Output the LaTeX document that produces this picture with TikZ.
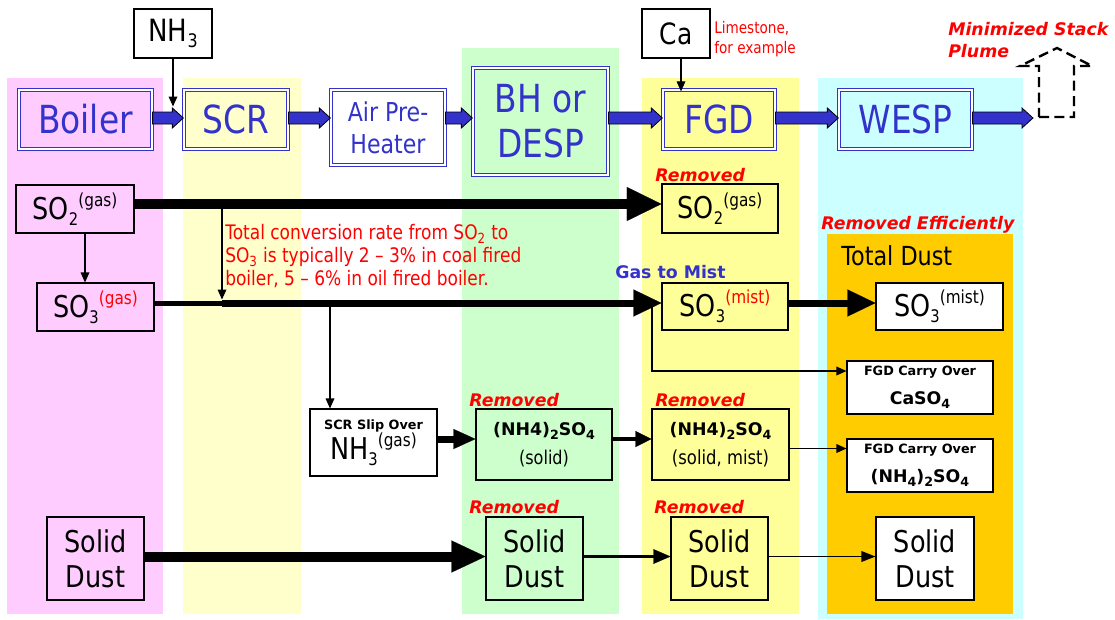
\documentclass[tikz,border=0pt]{standalone}
\usepackage{fontspec}
\setmainfont{DejaVu Sans}[FakeStretch=0.85]
\newfontfamily\boldface{DejaVu Sans}
\usetikzlibrary{arrows.meta,calc}

\definecolor{pinkbg}{HTML}{FFCCFF}
\definecolor{scrbg}{HTML}{FFFFCC}
\definecolor{greenbg}{HTML}{CCFFCC}
\definecolor{yellowbg}{HTML}{FFFF99}
\definecolor{cyanbg}{HTML}{CCFFFF}
\definecolor{orangebg}{HTML}{FFCC00}
\definecolor{procblue}{HTML}{3333CC}
\definecolor{alertred}{HTML}{FF0000}

\newcommand\fs[2]{\fontsize{#1}{#2}\selectfont}
% chemical sub- and superscripts
\newcommand\lo[2][13]{\raisebox{-4.5pt}{\fs{#1}{#1}#2}}
\newcommand\hi[2][13.5]{\raisebox{9.5pt}{\fs{#1}{#1}#2}}
\newcommand\blo[1]{\raisebox{-3pt}{\fs{9.5}{9.5}#1}}

% blue block arrow between two process units, on the flow axis
\newcommand\flowarrow[2]{%
  \path[fill=procblue, draw=black, line width=0.6pt]
    let \p1=(#1.east), \p2=(#2), \p3=(flowaxis) in
    (\x1,\y3+4.5pt) -- (\x2-8.25pt,\y3+4.5pt) -- (\x2-8.25pt,\y3+7.5pt) -- (\x2,\y3)
    -- (\x2-8.25pt,\y3-7.5pt) -- (\x2-8.25pt,\y3-4.5pt) -- (\x1,\y3-4.5pt) -- cycle;}

\begin{document}
\begin{tikzpicture}[x=0.75pt,y=-0.75pt,
  span/.style n args={4}{at={(#1/2+#3/2,#2/2+#4/2)},
    minimum width={(#3-#1)*0.75pt}, minimum height={(#4-#2)*0.75pt}},
  proc/.style={draw=procblue, line width=0.95pt, double=white, double distance=1.1pt,
    inner sep=0pt, text=procblue, align=center, font=\fs{29}{34}},
  chem/.style={draw=black, line width=0.8pt, inner sep=0pt, align=center, font=\fs{22.5}{26}},
  feed/.style={draw=black, line width=0.8pt, fill=white, inner sep=0pt},
  tag/.style={font=\boldface\bfseries\itshape\fs{13}{16.5}, text=alertred, inner sep=0pt, anchor=base west},
  note/.style={text=alertred, inner sep=0pt, anchor=north west, align=left},
  link/.style={draw=black, line width=0.9pt, -{Triangle[length=7.5pt,width=6.5pt]}},
]
\useasboundingbox (0,0) rectangle (1115,619);

% column bands
\fill[pinkbg]   (7,78)    rectangle (163,614);
\fill[scrbg]    (183,78)  rectangle (301,614);
\fill[greenbg]  (462,48)  rectangle (619,614);
\fill[yellowbg] (642,78)  rectangle (799,614);
\fill[cyanbg]   (818,78)  rectangle (1023,619);
\fill[orangebg] (827,234) rectangle (1013,614);

% process units
\node[proc, fill=pinkbg,   span={19}{90}{152}{149}]  (boiler) {Boiler};
\node[proc, fill=scrbg,    span={184}{90}{288}{149}] (scr) {SCR};
\node[proc, fill=white,    span={331}{90}{445}{165}, font=\fs{19.5}{24}] (aph) {Air Pre-\\Heater};
\node[proc, fill=greenbg,  span={473}{68}{608}{175}] (bh) {BH or\\DESP};
\node[proc, fill=yellowbg, span={663}{90}{775}{149}] (fgd) {FGD};
\node[proc, fill=cyanbg,   span={839}{90}{972}{149}] (wesp) {WESP};

% reagent feeds
\node[feed, span={134}{9}{212}{58}, font=\fs{23}{26}] (nh3) {NH\lo[14]{3}};
\node[feed, span={642}{9}{710}{58}, font=\fs{22}{26}] (ca) {Ca};

% flow axis and stack outlet
\coordinate (flowaxis) at (0,118);
\coordinate (stackin) at (1033,118);
\flowarrow{boiler}{scr.west}
\flowarrow{scr}{aph.west}
\flowarrow{aph}{bh.west}
\flowarrow{bh}{fgd.west}
\flowarrow{fgd}{wesp.west}
\flowarrow{wesp}{stackin}

% dashed stack
\draw[line width=1.8pt, dash pattern=on 7.5pt off 4pt]
  (1039,117) -- (1074,117) -- (1074,66) -- (1092,66) -- (1057,48) -- (1020,66) -- (1039,66) -- cycle;

\coordinate (nh3in) at (173,106.5);
\draw[link] (nh3.south) -- (nh3in);
\draw[link, shorten >=-1.5pt] ([xshift=3.75pt]ca.south) -- ([xshift=3.75pt]ca.south |- fgd.north);

% labels
\node[note, font=\fs{12}{15}] (lime) at (714,21) {Limestone,\\for example};
\node[note, font=\boldface\bfseries\itshape\fs{13}{16.5}] (plume) at (948,22) {Minimized Stack\\Plume};
\node[note, font=\fs{15}{17.25}] (conv) at (225,224)
  {Total conversion rate from SO\textsubscript{2} to\\SO\textsubscript{3} is typically 2 – 3\% in coal fired\\boiler, 5 – 6\% in oil fired boiler.};
\node[tag] (rm1) at (655,181) {Removed};
\node[tag] (rmeff) at (821,229) {Removed Efficiently};
\node[tag, text=procblue, font=\boldface\bfseries\fs{13}{16.5}] (mist) at (615,278) {Gas to Mist};
\node[tag] (rm2) at (469,406) {Removed};
\node[tag] (rm3) at (655,406) {Removed};
\node[tag] (rm4) at (469,513) {Removed};
\node[tag] (rm5) at (654,513) {Removed};
\node[anchor=base west, inner sep=0pt, font=\fs{19.7}{22}] (totdust) at (841,265) {Total Dust};

% species boxes
\node[chem, fill=pinkbg,   span={16}{185}{134}{233}]  (so2)  {SO\lo{2}\hi{(gas)}};
\node[chem, fill=pinkbg,   span={37}{283}{154}{331}]  (so3)  {SO\lo{3}\hi{\textcolor{alertred}{(gas)}}};
\node[chem, fill=yellowbg, span={662}{184}{778}{233}] (fso2) {SO\lo{2}\hi{(gas)}};
\node[chem, fill=yellowbg, span={662}{283}{788}{330}] (fso3) {SO\lo{3}\hi{\textcolor{alertred}{(mist)}}};
\node[chem, fill=white,    span={876}{283}{1003}{330}] (wso3) {SO\lo{3}\hi{(mist)}};
\node[chem, fill=white,    span={310}{409}{437}{476}, font=\fs{22.5}{22.5}] (slip)
  {{\boldface\bfseries\fs{9.6}{11}SCR Slip Over}\\NH\lo{3}\hi{(gas)}};
\node[chem, fill=greenbg,  span={476}{409}{612}{480}, font=\fs{14.2}{22}] (gnh)
  {{\boldface\bfseries\fs{13}{16}(NH4)\blo{2}SO\blo{4}}\\(solid)};
\node[chem, fill=yellowbg, span={652}{409}{789}{480}, font=\fs{14.5}{22}] (ynh)
  {{\boldface\bfseries\fs{13}{16}(NH4)\blo{2}SO\blo{4}}\\(solid, mist)};
\node[chem, fill=white,    span={847}{361}{993}{414}, font=\boldface\bfseries\fs{13}{22}] (co1)
  {{\fs{9.6}{11}FGD Carry Over}\\CaSO\blo{4}};
\node[chem, fill=white,    span={847}{439}{993}{492}, font=\boldface\bfseries\fs{13}{22}] (co2)
  {{\fs{9.6}{11}FGD Carry Over}\\(NH\blo{4})\blo{2}SO\blo{4}};
\node[chem, fill=pinkbg,   span={47}{517}{144}{600}]  (sd1) {Solid\\Dust};
\node[chem, fill=greenbg,  span={486}{517}{583}{600}] (sd2) {Solid\\Dust};
\node[chem, fill=yellowbg, span={671}{517}{768}{600}] (sd3) {Solid\\Dust};
\node[chem, fill=white,    span={876}{517}{974}{600}] (sd4) {Solid\\Dust};

% SO2 / SO3 streams
\coordinate (vdrop) at (85,0);
\draw[link] (so2.south -| vdrop) -- (so3.north -| vdrop);
\coordinate (so2line) at ($(so2.east)+(0,-5)$);
\coordinate (so3line) at ($(so3.east)+(0,-4)$);
\coordinate (tapA) at (222,204);
\coordinate (tapB) at (tapA |- so3line);
\coordinate (brA) at (330,303);
\coordinate (brB) at (652,303);
\coordinate (lvA) at (0,371);
\coordinate (lvB) at (0,448.5);
\coordinate (lvC) at (0,439);
\coordinate (lvD) at (0,556.5);

\draw[line width=7.5pt, -{Triangle[length=26pt,width=25.5pt,line width=0.1pt]}] (so2line) -- (so2line -| fso2.west);
\draw[link] (brB) |- (co1.west |- lvA);
\draw[line width=3.75pt] (so3line) -- (tapB);
\draw[line width=5.25pt, -{Triangle[length=21pt,width=20.25pt,line width=0.1pt]}] (tapB) -- (so3line -| fso3.west);
\draw[link, shorten >=2.6pt] (tapA) -- (tapB);
\draw[link] (brA) -- (brA |- slip.north);
\draw[line width=5.25pt, -{Triangle[length=21pt,width=20.25pt,line width=0.1pt]}] (so3line -| fso3.east) -- (so3line -| wso3.west);

% ammonium sulphate stream
\draw[line width=5.25pt, -{Triangle[length=16.5pt,width=15pt,line width=0.1pt]}] (slip.east |- lvC) -- (gnh.west |- lvC);
\draw[line width=2.6pt, -{Triangle[length=12pt,width=12pt,line width=0.1pt]}] (gnh.east |- lvC) -- (ynh.west |- lvC);
\draw[link] (ynh.east |- lvB) -- (co2.west |- lvB);

% solid dust stream
\draw[line width=7.5pt, -{Triangle[length=25.5pt,width=24pt,line width=0.1pt]}] (sd1.east |- lvD) -- (sd2.west |- lvD);
\draw[line width=2.6pt, -{Triangle[length=12.75pt,width=11pt,line width=0.1pt]}] (sd2.east |- lvD) -- (sd3.west |- lvD);
\draw[line width=0.9pt, -{Triangle[length=10.5pt,width=8pt]}] (sd3.east |- lvD) -- (sd4.west |- lvD);
\end{tikzpicture}
\end{document}
